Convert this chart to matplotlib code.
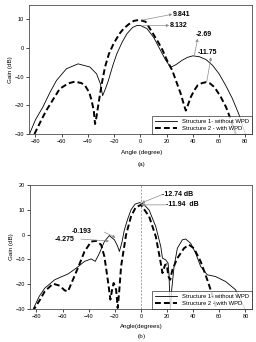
import numpy as np
import matplotlib.pyplot as plt

plt.rcParams['font.family'] = ['Liberation Sans', 'DejaVu Sans']

# (a) radiation pattern
a_ang1 = [-84.6, -80, -74.4, -69, -64, -56.4, -47.5, -38.5, -33.4, -30.5, -28.8, -26.5, -24.4, -21, -18, -14, -10.3, -6, -2.6,
          0, 5, 10, 15, 19, 23, 27, 32, 36, 40, 45, 50, 55, 60, 65, 70, 75, 80]
a_gain1 = [-30, -25, -20.6, -15.5, -11.3, -7.2, -5.5, -6.6, -9, -12.5, -16.6, -14, -11.3, -6, -2, 2, 5, 7.2, 7.9,
           7.9, 6.8, 3.8, -0.5, -4, -6.7, -5.8, -4.2, -3.2, -2.7, -3, -4, -6, -9, -13, -17.5, -23, -30]
a_ang2 = [-80.8, -76, -71.8, -66, -61.5, -55, -50, -45, -42.3, -39, -37.2, -35.5, -34.6, -33.5, -32, -29.5, -27, -24, -20.5, -16, -12.8, -9, -5, -1,
          4, 9, 13, 16.7, 20, 24.3, 28, 30.8, 33, 34.6, 36.5, 38.5, 41, 43.6, 47, 50, 53, 56.4, 61, 65.4, 68.5, 71.8, 73]
a_gain2 = [-30, -25.5, -21.8, -17.5, -14.2, -12.3, -11.7, -12.2, -13, -15.5, -18.3, -22, -26.5, -24, -19.5, -12.5, -6.6, -2, 1.5, 5, 6.8, 8.3, 9.5, 9.84,
           9.2, 5.5, 2.5, -0.5, -4, -7.8, -12.5, -16, -19.5, -21.8, -19.5, -17, -14.8, -13, -12.2, -11.9, -12.3, -13.6, -16.8, -20.7, -24.5, -28.8, -30.5]

# (b) radiation pattern
b_ang1 = [-82.5, -78, -73.7, -66, -60, -55.9, -49.5, -43.2, -38.1, -35, -31.8, -28, -24.2, -20.3, -18, -16.5, -14.5, -12.7, -10, -7.6, -4.5, -1,
          2, 6.3, 11.4, 15.2, 16.5, 19, 20.8, 21.5, 22, 22.6, 23.6, 25.4, 27.9, 31.7, 34.3, 38.1, 41.9, 45.7, 50.8, 57.1, 64.8, 72.4, 78.7, 80]
b_gain1 = [-30, -25, -21.6, -18.2, -16.8, -15.9, -13.5, -10.8, -9.8, -10.8, -7.5, -2.8, -0.4, -2.1, -4.5, -6.8, -3, 1.9, 6.5, 10, 12.3, 12.9,
           12.3, 9.9, 3.2, -4.8, -9.5, -10.2, -11.5, -16, -24, -31, -22, -12.8, -5.5, -2.1, -1.8, -3.5, -7.5, -12.8, -16.2, -16.9, -18.9, -22.2, -28.9, -30.5]
b_ang2 = [-83, -81.3, -77, -73.7, -67.3, -62.2, -58.4, -55.9, -52.1, -48.3, -43.2, -38.1, -34.3, -30.5, -28, -25.4, -23.4, -22, -20.9, -19, -17.8,
          -16.5, -15.2, -11.4, -7.6, -4, 0, 6.3, 11.4, 15.2, 16.5, 18.5, 19.8, 21.1, 22.4, 24.1, 27.9, 33, 36.8, 40.6, 45.7, 50.8, 55.9, 57.7]
b_gain2 = [-31, -29.6, -26, -22.9, -19.8, -20.6, -22.5, -22.9, -18.2, -13.5, -6.8, -2.8, -2.5, -4.1, -8.8, -18.2, -26.2, -22, -19.5, -22.2, -29.6,
           -22, -12.8, -0.1, 7.3, 11, 12, 7.3, -0.8, -11.5, -15.5, -12.2, -12, -16.9, -18.2, -14.2, -9.5, -5.5, -4.1, -5.5, -10.8, -18.2, -26.2, -29.6]

lab1 = 'Structure 1- without WPD'
lab2 = 'Structure 2 - with WPD'

fig = plt.figure(figsize=(2.56, 3.42), dpi=100)
ax1 = fig.add_axes([0.113, 0.608, 0.871, 0.377])
ax2 = fig.add_axes([0.117, 0.0965, 0.867, 0.3625])

dash = (3.0, 1.6)
arr = dict(arrowstyle='-|>', color='0.55', lw=0.5, mutation_scale=4, shrinkA=0, shrinkB=0)
ann = dict(fontsize=5, fontweight='bold', va='center')

ax1.plot(a_ang1, a_gain1, color='black', lw=0.6, label=lab1)
ax1.plot(a_ang2, a_gain2, color='black', lw=1.4, dashes=dash, label=lab2)
ax1.set_xlim(-85, 85)
ax1.set_ylim(-30, 15)
ax1.set_xticks(np.arange(-80, 81, 20))
ax1.set_yticks([-30, -20, -10, 0, 10])
ax1.set_ylabel('Gain (dB)', fontsize=4.5, labelpad=1)
ax1.annotate('', xy=(24.3, 11.8), xytext=(1.5, 9.8), arrowprops=arr)
ax1.text(24.5, 11.8, '9.841', **ann)
ax1.annotate('', xy=(22, 7.9), xytext=(2, 7.9), arrowprops=arr)
ax1.text(22.5, 7.9, '8.132', **ann)
ax1.annotate('', xy=(43.6, 3.3), xytext=(41, -2.8), arrowprops=arr)
ax1.text(42, 4.6, '-2.69', **ann)
ax1.annotate('', xy=(53.8, -3.2), xytext=(50.5, -11.9), arrowprops=arr)
ax1.text(43.6, -1.4, '-11.75', **ann)
leg1 = ax1.legend(loc='lower right', fontsize=4.2, frameon=True, fancybox=False, edgecolor='black',
                  borderpad=0.5, handlelength=3.8, labelspacing=0.3, borderaxespad=0)
leg1.get_frame().set_linewidth(0.5)

ax2.plot(b_ang1, b_gain1, color='black', lw=0.6, label=lab1)
ax2.plot(b_ang2, b_gain2, color='black', lw=1.4, dashes=dash, label=lab2)
ax2.axvline(0, color='0.5', lw=0.5, ls=(0, (3, 2)))
ax2.set_xlim(-85, 85)
ax2.set_ylim(-30, 20)
ax2.set_xticks(np.arange(-80, 81, 20))
ax2.set_yticks([-30, -20, -10, 0, 10, 20])
ax2.set_ylabel('Gain (dB)', fontsize=4.5, labelpad=1)
ax2.annotate('', xy=(0.5, 12.8), xytext=(16.5, 16.2), arrowprops=arr)
ax2.text(16.5, 16.3, '-12.74 dB', **ann)
ax2.annotate('', xy=(0.5, 12.0), xytext=(19, 12.0), arrowprops=arr)
ax2.text(19, 12.0, '-11.94  dB', **ann)
ax2.annotate('', xy=(-19.5, -1.2), xytext=(-28, 1.0), arrowprops=arr)
ax2.text(-53.3, 1.2, '-0.193', **ann)
ax2.annotate('', xy=(-24.5, -2.6), xytext=(-46, -1.8), arrowprops=arr)
ax2.text(-66, -1.8, '-4.275', **ann)
leg2 = ax2.legend(loc='lower right', fontsize=4.2, frameon=True, fancybox=False, edgecolor='black',
                  borderpad=0.5, handlelength=3.8, labelspacing=0.3, borderaxespad=0)
leg2.get_frame().set_linewidth(0.5)

for ax in (ax1, ax2):
    ax.tick_params(labelsize=4, length=2, width=0.5, pad=1.5)
    for s in ax.spines.values():
        s.set_linewidth(0.6)
        s.set_color('0.3')

fig.text(0.553, 0.553, 'Angle (degree)', fontsize=4.5, ha='center', va='center')
fig.text(0.553, 0.52, '(a)', fontsize=4.5, ha='center', va='center')
fig.text(0.553, 0.044, 'Angle(degrees)', fontsize=4.5, ha='center', va='center')
fig.text(0.553, 0.017, '(b)', fontsize=5, ha='center', va='center', family='Liberation Serif')

fig.savefig('out.png', dpi=100)
